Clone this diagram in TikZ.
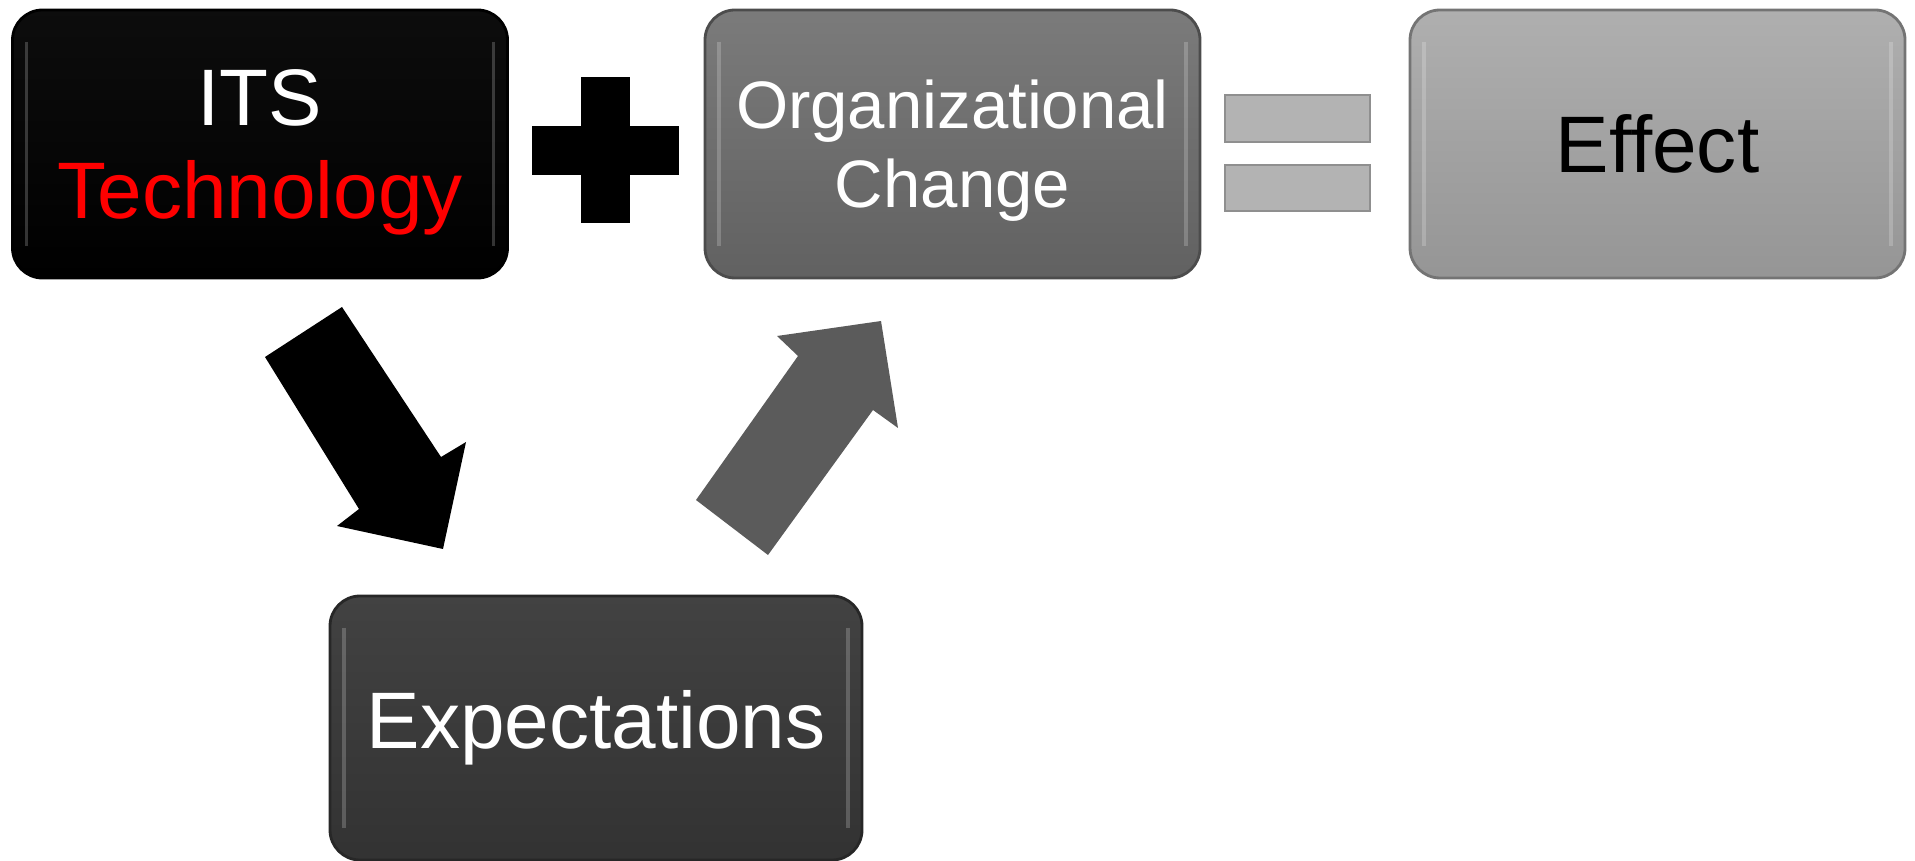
\documentclass[tikz,border=0pt]{standalone}
\usepackage{fontspec}
\setmainfont{Liberation Sans}
\usetikzlibrary{positioning}

\definecolor{orggray}{HTML}{6C6C6C}
\definecolor{effgray}{HTML}{A6A6A6}
\definecolor{expgray}{HTML}{383838}
\definecolor{arrowgray}{HTML}{5B5B5B}
\definecolor{eqgray}{HTML}{B3B3B3}

\tikzset{
  tile/.style={rounded corners=0.3cm, minimum width=4.95cm, minimum height=2.68cm,
    inner sep=0pt, align=center, text=white, line width=0.8pt,
    font=\fontsize{22.8}{26.2}\selectfont,
    path picture={
      \draw[white,opacity=.2,line width=1pt]
        ([xshift=4pt,yshift=-9pt]path picture bounding box.north west) --
        ([xshift=4pt,yshift=9pt]path picture bounding box.south west);
      \draw[white,opacity=.2,line width=1pt]
        ([xshift=-4pt,yshift=-9pt]path picture bounding box.north east) --
        ([xshift=-4pt,yshift=9pt]path picture bounding box.south east);
    }},
  bar/.style={fill=eqgray, draw=eqgray!80!black, line width=0.4pt},
}

\begin{document}
\begin{tikzpicture}
    \useasboundingbox (0,0) rectangle (19.15,-8.61);

    % boxes
    \node[tile, text depth=0pt, top color=black!95, bottom color=black, draw=black] (its) at (2.60,-1.44)
        {ITS\\\textcolor{red}{Technology}};
    \node[tile, text depth=0pt, top color=orggray!90!white, bottom color=orggray!90!black,
          draw=orggray!70!black, font=\fontsize{19.1}{22.5}\selectfont] (org) at (9.525,-1.44)
        {Organizational\\Change};
    \node[tile, top color=effgray!90!white, bottom color=effgray!90!black, draw=effgray!70!black,
          text=black] (effect) at (16.575,-1.44) {Effect};
    \node[tile, minimum width=5.32cm, minimum height=2.64cm,
          top color=expgray!95!white, bottom color=expgray!90!black, draw=expgray!70!black]
          (expect) at (5.96,-7.28) {Expectations};

    % plus
    \fill[black] (5.32,-1.26) rectangle (6.79,-1.75);
    \fill[black] (5.81,-0.77) rectangle (6.30,-2.23);

    % equals
    \draw[bar] (12.25,-0.95) rectangle (13.70,-1.42);
    \draw[bar] (12.25,-1.65) rectangle (13.70,-2.11);

    % block arrows
    \fill[black] (2.65,-3.57) -- (3.42,-3.07) -- (4.41,-4.57) -- (4.66,-4.42)
        -- (4.43,-5.49) -- (3.37,-5.26) -- (3.59,-5.09) -- cycle;
    \fill[arrowgray] (6.96,-5.00) -- (7.68,-5.55) -- (8.73,-4.10) -- (8.98,-4.28)
        -- (8.81,-3.21) -- (7.77,-3.36) -- (7.98,-3.56) -- cycle;
\end{tikzpicture}
\end{document}
